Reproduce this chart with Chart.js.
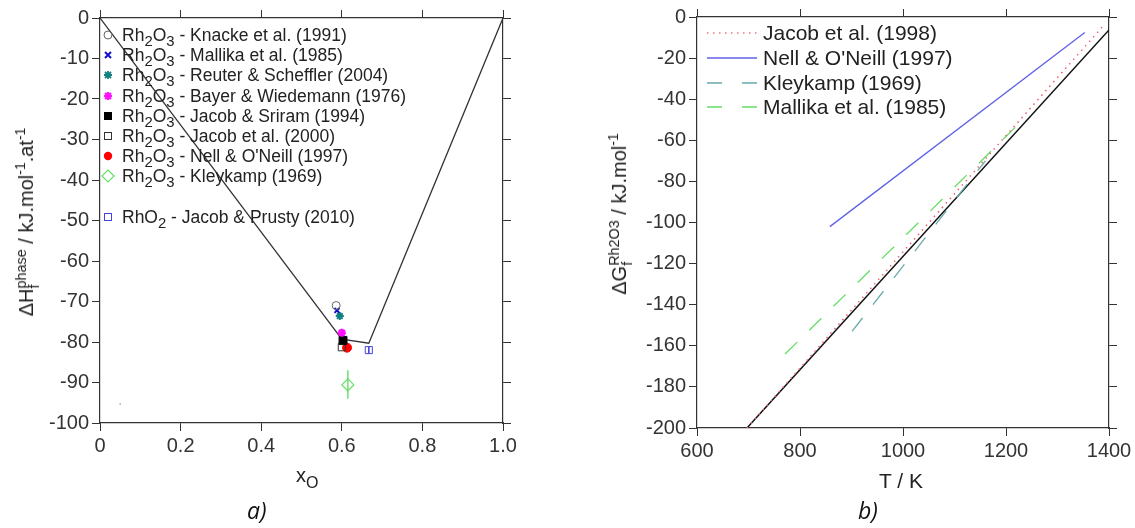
<!DOCTYPE html>
<html lang="en">
<head>
  <meta charset="UTF-8">
  <title>Rh-O formation enthalpy and Gibbs energy</title>
  <script src="https://cdn.jsdelivr.net/npm/chart.js@4.4.2/dist/chart.umd.min.js"></script>
  <style>
    body{ margin:0; width:1135px; height:528px; background:#fff; overflow:hidden; position:relative;
          font-family:"Liberation Sans", Arial, sans-serif; color:#222; }
    .wrap{ position:absolute; top:0; }
    .txt{ position:absolute; white-space:nowrap; }
    .lg{ position:absolute; white-space:nowrap; font-size:17.5px; line-height:20px; height:20px; }
    .lg svg{ position:absolute; left:-20px; top:4px; }
    .rl{ position:absolute; white-space:nowrap; font-size:21px; line-height:24px; height:24px; }
    .rl svg{ position:absolute; left:-57px; top:10px; }
    .s{ font-size:0.85em; position:relative; top:0.35em; }
    .stk{ display:inline-block; font-size:0.72em; line-height:0.9em; vertical-align:-0.42em; text-align:left; }
    .stk span{ display:block; }
    .up{ font-size:0.7em; position:relative; top:-0.6em; }
    .cap{ position:absolute; font-family:"Open Sans", sans-serif; font-style:italic; font-size:23px; color:#111; }
    .rot{ position:absolute; transform:translate(-50%,-50%) rotate(-90deg); white-space:nowrap; font-size:20px; color:#222; }
  </style>
</head>
<body>
  <div class="wrap" style="left:0;width:560px;height:528px;">
    <canvas id="chartA" width="560" height="528"></canvas>
  </div>
  <div class="wrap" style="left:560px;width:575px;height:528px;">
    <canvas id="chartB" width="575" height="528"></canvas>
  </div>

  <!-- legend a) -->
  <div class="lg" style="left:122px;top:25px;"><svg width="14" height="14"><circle cx="6" cy="6" r="4" fill="none" stroke="#666" stroke-width="1"/></svg>Rh<span class="s">2</span>O<span class="s">3</span> - Knacke et al. (1991)</div>
  <div class="lg" style="left:122px;top:45px;"><svg width="14" height="14"><path d="M3 3L9 9M9 3L3 9" stroke="#1010d0" stroke-width="2"/></svg>Rh<span class="s">2</span>O<span class="s">3</span> - Mallika et al. (1985)</div>
  <div class="lg" style="left:122px;top:65px;"><svg width="14" height="14"><path d="M6 2V10M2 6H10M3 3L9 9M9 3L3 9" stroke="#108080" stroke-width="1.8"/></svg>Rh<span class="s">2</span>O<span class="s">3</span> - Reuter &amp; Scheffler (2004)</div>
  <div class="lg" style="left:122px;top:86px;"><svg width="14" height="14"><path d="M6 2V10M2 6H10M3 3L9 9M9 3L3 9" stroke="#ff10ff" stroke-width="2.2"/></svg>Rh<span class="s">2</span>O<span class="s">3</span> - Bayer &amp; Wiedemann (1976)</div>
  <div class="lg" style="left:122px;top:106px;"><svg width="14" height="14"><rect x="2" y="2" width="8" height="8" fill="#000"/></svg>Rh<span class="s">2</span>O<span class="s">3</span> - Jacob &amp; Sriram (1994)</div>
  <div class="lg" style="left:122px;top:126px;"><svg width="14" height="14"><rect x="2.5" y="2.5" width="7" height="7" fill="none" stroke="#333" stroke-width="1"/></svg>Rh<span class="s">2</span>O<span class="s">3</span> - Jacob et al. (2000)</div>
  <div class="lg" style="left:122px;top:146px;"><svg width="14" height="14"><circle cx="6" cy="6" r="4.2" fill="#f00"/></svg>Rh<span class="s">2</span>O<span class="s">3</span> - Nell &amp; O'Neill (1997)</div>
  <div class="lg" style="left:122px;top:166px;"><svg width="16" height="16" style="left:-22px;top:2px;"><path d="M8 2L14 8L8 14L2 8Z" fill="none" stroke="#66dd66" stroke-width="1.2"/></svg>Rh<span class="s">2</span>O<span class="s">3</span> - Kleykamp (1969)</div>
  <div class="lg" style="left:122px;top:207px;"><svg width="14" height="14"><rect x="2.5" y="2.5" width="7" height="7" fill="none" stroke="#4444dd" stroke-width="1"/></svg>RhO<span class="s">2</span> - Jacob &amp; Prusty (2010)</div>

  <!-- legend b) -->
  <div class="rl" style="left:763px;top:21px;"><svg width="52" height="4"><line x1="1" y1="2" x2="51" y2="2" stroke="#ee7080" stroke-width="1.5" stroke-dasharray="1.5 4.5"/></svg>Jacob et al. (1998)</div>
  <div class="rl" style="left:763px;top:46px;"><svg width="52" height="4"><line x1="1" y1="2" x2="51" y2="2" stroke="#6060e8" stroke-width="1.3"/></svg>Nell &amp; O'Neill (1997)</div>
  <div class="rl" style="left:763px;top:71px;"><svg width="52" height="4"><line x1="1" y1="2" x2="51" y2="2" stroke="#66aaaa" stroke-width="1.3" stroke-dasharray="15 20"/></svg>Kleykamp (1969)</div>
  <div class="rl" style="left:763px;top:95px;"><svg width="52" height="4"><line x1="1" y1="2" x2="51" y2="2" stroke="#66dd66" stroke-width="1.3" stroke-dasharray="15 20"/></svg>Mallika et al. (1985)</div>

  <!-- axis titles -->
  <div class="rot" style="left:28px;top:222px;">&Delta;H<span class="stk"><span>phase</span><span>f</span></span> / kJ.mol<span class="up">-1</span>.at<span class="up">-1</span></div>
  <div class="rot" style="left:621px;top:214px;">&Delta;G<span class="stk"><span>Rh2O3</span><span>f</span></span> / kJ.mol<span class="up">-1</span></div>
  <div class="txt" style="left:296px;top:464px;font-size:20px;">x<span class="s" style="font-size:0.8em;">O</span></div>
  <div class="txt" style="left:879px;top:469px;font-size:21px;">T / K</div>
  <div class="cap" style="left:247px;top:494px;">a)</div>
  <div class="cap" style="left:858px;top:494px;">b)</div>

  <script>
    // ---- chart a) enthalpy of formation vs x_O ----
    const hullX = [0, 0.6, 0.667, 1.0];
    const hullY = [0, -79.3, -80.3, 0];

    const knacke = [{x: 0.586, y: -71.0}];
    const mallika = [{x: 0.588, y: -72.2}];
    const reuter = [{x: 0.595, y: -73.6}];
    const bayer = [{x: 0.600, y: -77.7}];
    const sriram = [{x: 0.603, y: -79.6}];
    const jacob2000 = [{x: 0.600, y: -81.3}];
    const nell = [{x: 0.613, y: -81.4}];
    const kleykamp = [{x: 0.615, y: -90.6}];
    const kleykampErr = [{x: 0.615, y: -87.0}, {x: 0.615, y: -94.0}];
    const rho2 = [{x: 0.667, y: -82.0}];
    const rho2Err = [{x: 0.667, y: -81.2}, {x: 0.667, y: -82.8}];
    const strayDot = [{x: 0.05, y: -95.3}];

    const xTicksA = [0, 0.2, 0.4, 0.6, 0.8, 1.0];
    const xLabelsA = ['0', '0.2', '0.4', '0.6', '0.8', '1.0'];
    const yTicksA = [0, -10, -20, -30, -40, -50, -60, -70, -80, -90, -100];
    const yLabelsA = ['0', '-10', '-20', '-30', '-40', '-50', '-60', '-70', '-80', '-90', '-100'];

    // ---- chart b) Gibbs energy of Rh2O3 vs T ----
    const blackT = [697, 1400];
    const blackG = [-200, -6.3];
    const jacobT = [697, 1390];
    const jacobG = [-200, -4.0];
    const nellT = [858, 1353];
    const nellG = [-102, -7.5];
    const kleyT = [901, 1160];
    const kleyG = [-153, -70];
    const mallikaT = [771, 1237];
    const mallikaG = [-164, -49];

    const xTicksB = [600, 800, 1000, 1200, 1400];
    const xLabelsB = ['600', '800', '1000', '1200', '1400'];
    const yTicksB = [0, -20, -40, -60, -80, -100, -120, -140, -160, -180, -200];
    const yLabelsB = ['0', '-20', '-40', '-60', '-80', '-100', '-120', '-140', '-160', '-180', '-200'];

    const pair = (xs, ys) => xs.map((v, i) => ({x: v, y: ys[i]}));
    const axisCol = '#333';
    const tickFont = {family: 'Liberation Sans, Arial, sans-serif', size: 20};

    function axis(pos, min, max, vals, labels, size, showLabels) {
      return {
        type: 'linear', position: pos, min: min, max: max,
        afterBuildTicks: s => { s.ticks = vals.map(v => ({value: v})); },
        afterFit: s => { if (pos === 'left' || pos === 'right') s.width = size; else s.height = size; },
        ticks: {display: showLabels, color: '#333', font: tickFont, padding: 3,
                callback: (v, i) => labels[i]},
        grid: {drawOnChartArea: false, drawTicks: true, tickLength: 8, color: axisCol, lineWidth: 1},
        border: {display: true, color: axisCol, width: 1.2}
      };
    }

    function marker(data, style, r, stroke, fill, bw) {
      return {data: data, pointStyle: style, pointRadius: r, borderColor: stroke,
              backgroundColor: fill, pointBorderWidth: bw, borderWidth: bw, showLine: false, order: 1};
    }

    Chart.defaults.animation = false;
    Chart.defaults.events = [];

    new Chart(document.getElementById('chartA'), {
      type: 'scatter',
      data: {
        datasets: [
          marker(knacke, 'circle', 4, '#666', 'rgba(0,0,0,0)', 1),
          marker(mallika, 'crossRot', 3.5, '#1010d0', '#1010d0', 2),
          marker(reuter, 'star', 4, '#108080', '#108080', 2),
          marker(bayer, 'star', 4, '#ff10ff', '#ff10ff', 2.5),
          marker(sriram, 'rect', 5.6, '#000', '#000', 1),
          marker(jacob2000, 'rect', 5, '#333', 'rgba(0,0,0,0)', 1),
          marker(nell, 'circle', 4.5, '#f00', '#f00', 1),
          marker(kleykamp, 'rectRot', 6, '#66dd66', 'rgba(0,0,0,0)', 1.2),
          marker(rho2, 'rect', 5, '#4444dd', 'rgba(0,0,0,0)', 1),
          marker(strayDot, 'circle', 0.8, '#888', '#888', 0),
          {data: kleykampErr, showLine: true, pointRadius: 0, borderColor: '#66dd66', borderWidth: 1.4, order: 2},
          {data: rho2Err, showLine: true, pointRadius: 0, borderColor: '#4444dd', borderWidth: 1, order: 2},
          {data: pair(hullX, hullY), showLine: true, pointRadius: 0, borderColor: '#333', borderWidth: 1.3, order: 10}
        ]
      },
      options: {
        responsive: false,
        layout: {padding: {left: 0, top: 8, right: 47, bottom: 0}},
        plugins: {legend: {display: false}, tooltip: {enabled: false}},
        scales: {
          x: axis('bottom', 0, 1, xTicksA, xLabelsA, 105, true),
          x2: axis('top', 0, 1, xTicksA, xLabelsA, 10, false),
          y: axis('left', -100, 0, yTicksA, yLabelsA, 100, true),
          y2: axis('right', -100, 0, yTicksA, yLabelsA, 10, false)
        }
      }
    });

    new Chart(document.getElementById('chartB'), {
      type: 'scatter',
      data: {
        datasets: [
          {data: pair(jacobT, jacobG), showLine: true, pointRadius: 0, borderColor: '#ee6070', borderWidth: 1.5, borderDash: [1.5, 4.5], order: 1},
          {data: pair(nellT, nellG), showLine: true, pointRadius: 0, borderColor: '#6060e8', borderWidth: 1.3, order: 2},
          {data: pair(kleyT, kleyG), showLine: true, pointRadius: 0, borderColor: '#66aaaa', borderWidth: 1.3, borderDash: [17, 17], order: 3},
          {data: pair(mallikaT, mallikaG), showLine: true, pointRadius: 0, borderColor: '#66dd66', borderWidth: 1.3, borderDash: [17, 17], order: 4},
          {data: pair(blackT, blackG), showLine: true, pointRadius: 0, borderColor: '#111', borderWidth: 1.5, order: 5}
        ]
      },
      options: {
        responsive: false,
        layout: {padding: {left: 0, top: 7, right: 16, bottom: 0}},
        plugins: {legend: {display: false}, tooltip: {enabled: false}},
        scales: {
          x: axis('bottom', 600, 1400, xTicksB, xLabelsB, 100, true),
          x2: axis('top', 600, 1400, xTicksB, xLabelsB, 10, false),
          y: axis('left', -200, 0, yTicksB, yLabelsB, 137, true),
          y2: axis('right', -200, 0, yTicksB, yLabelsB, 10, false)
        }
      }
    });
  </script>
</body>
</html>
